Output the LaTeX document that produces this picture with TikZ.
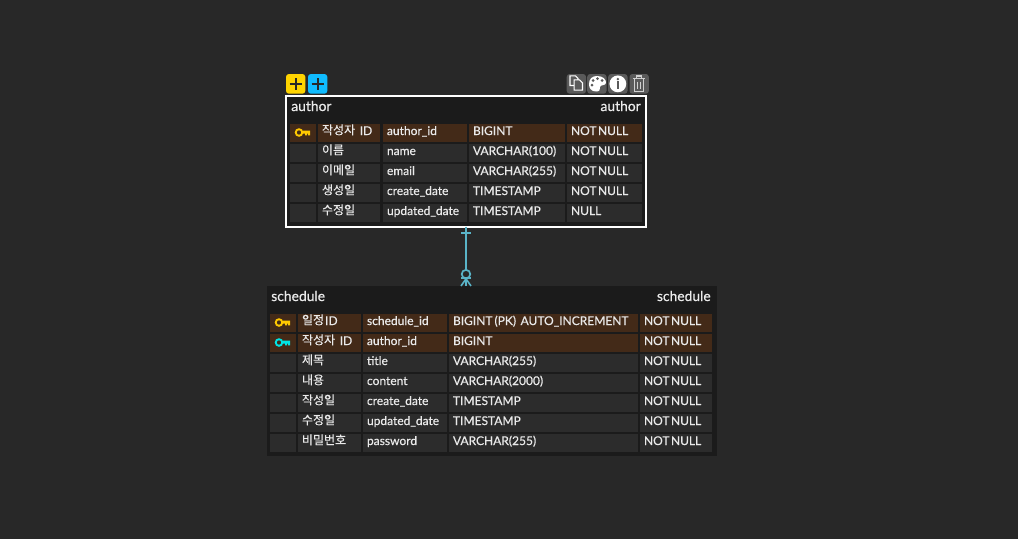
\documentclass[tikz,border=0pt]{standalone}
\usepackage{fontspec}
\setmainfont{Lato}[RawFeature={embolden=0.5}]
\newfontfamily\kr{Noto Sans CJK KR}[RawFeature={embolden=0.3}]
\newcommand{\ko}[1]{\raisebox{.5pt}{\kr\fontsize{9}{9}\selectfont #1}}
\newcommand{\nn}{NOT\kern1.1pt NULL}
\definecolor{bgc}{HTML}{282828}
\definecolor{tbl}{HTML}{1B1B1B}
\definecolor{cellc}{HTML}{2C2C2C}
\definecolor{pkc}{HTML}{432A18}
\definecolor{txt}{HTML}{EAEAEA}
\definecolor{conn}{HTML}{5AB4C8}
\definecolor{yel}{HTML}{FFD400}
\definecolor{blu}{HTML}{10BCFF}
\definecolor{icong}{HTML}{5A5A5A}
\definecolor{keyy}{HTML}{FFC800}
\definecolor{keyc}{HTML}{00E5E5}
\definecolor{trashc}{HTML}{D0D0D0}
\tikzset{
  tcell/.style={rectangle,anchor=north west,fill=cellc,text=txt,inner xsep=3pt,inner ysep=0pt,outer sep=0pt,
    text height=8.25pt,text depth=5.25pt,align=left,font=\fontsize{9}{9}\selectfont},
  pkcell/.style={tcell,fill=pkc},
  tablebox/.style={rectangle,anchor=north west,fill=tbl,inner sep=0pt,outer sep=0pt},
  headtxt/.style={text=txt,inner sep=0pt,font=\fontsize{10.4}{11}\selectfont},
  addbtn/.style={rectangle,rounded corners=2.2pt,anchor=north west,inner sep=0pt,outer sep=0pt,minimum width=14.5pt,minimum height=14.8pt},
  iconbtn/.style={addbtn,fill=icong},
  rel/.style={draw=conn,line width=1.5pt},
  plusmark/.style={draw=bgc,line width=1.6pt},
  iconline/.style={draw=white,line width=.8pt},
}
\newcommand{\cellat}[6]{\pgfmathsetlengthmacro{\cw}{(#3-#2)*.75pt-6pt}%
  \node[#5,text width=\cw] (#1) at (#2,#4) {#6};}
\newcommand{\arow}[7]{%
  \cellat{#1k}{290}{316}{#2}{#3}{}%
  \cellat{#1n}{318}{380}{#2}{#3}{#4}%
  \cellat{#1c}{383}{467}{#2}{#3}{#5}%
  \cellat{#1t}{469}{565}{#2}{#3}{#6}%
  \cellat{#1u}{567}{642}{#2}{#3}{#7}}
\newcommand{\srow}[7]{%
  \cellat{#1k}{269.5}{296}{#2}{#3}{}%
  \cellat{#1n}{298}{361}{#2}{#3}{#4}%
  \cellat{#1c}{363}{447}{#2}{#3}{#5}%
  \cellat{#1t}{449}{638}{#2}{#3}{#6}%
  \cellat{#1u}{640}{712}{#2}{#3}{#7}}
\newcommand{\keyicon}[3]{%
  \draw[#3,line width=1.4pt] (#1,#2) circle (3.3);
  \fill[#3] (#1+3.5,#2-1.8) -- (#1+11,#2-1.8) -- (#1+11,#2+2.8) -- (#1+9,#2+2.8) -- (#1+9,#2+1.2) -- (#1+8,#2+1.2) -- (#1+8,#2+2.8) -- (#1+6,#2+2.8) -- (#1+6,#2+1.2) -- (#1+3.5,#2+1.2) -- cycle;}
\begin{document}
\begin{tikzpicture}[x=.75pt,y=-.75pt]
\useasboundingbox (0,0) rectangle (1018,539);
\fill[bgc] (0,0) rectangle (1018,539);

\node[tablebox,draw=white,line width=1.5pt,minimum width=270pt,minimum height=97.9pt] (author) at (286,96) {};
\node[tablebox,minimum width=337.5pt,minimum height=127.5pt] (schedule) at (266.5,286) {};
\coordinate (fk) at (author.south |- schedule.north);
\draw[rel] (author.south) -- (fk);
\draw[rel] ([xshift=-3.75pt,yshift=-4.9pt]author.south) -- ([xshift=3.75pt,yshift=-4.9pt]author.south);
\draw[rel,fill=bgc,line width=1.3pt] ([yshift=8.9pt]fk) circle (3.2pt);
\draw[rel] ([xshift=-3.75pt,yshift=6pt]fk) -- ([xshift=3.75pt,yshift=6pt]fk);
\draw[rel,line width=1.2pt] ([yshift=5.4pt]fk) -- ([xshift=-3.75pt]fk) ([yshift=5.4pt]fk) -- ([xshift=3.75pt]fk);

\node[addbtn,fill=yel] (addy) at (286,74) {};
\node[addbtn,fill=blu] (addb) at (308,74) {};
\draw[plusmark] ([xshift=-4.5pt]addy.center) -- ([xshift=4.5pt]addy.center) ([yshift=-4.5pt]addy.center) -- ([yshift=4.5pt]addy.center);
\draw[plusmark] ([xshift=-4.5pt]addb.center) -- ([xshift=4.5pt]addb.center) ([yshift=-4.5pt]addb.center) -- ([yshift=4.5pt]addb.center);
\node[iconbtn] (icopy) at (566.7,74) {};
\node[iconbtn] (ipal) at (587.2,74) {};
\node[iconbtn] (iinfo) at (608.2,74) {};
\node[iconbtn] (itrash) at (629.5,74) {};
% copy
\draw[iconline] (574,85.5) -- (570,85.5) -- (570,75.8) -- (575.5,75.8) -- (578,78.3) -- (578,79.8);
\draw[iconline] (574.2,79.8) -- (579.5,79.8) -- (582.5,82.8) -- (582.5,90.2) -- (574.2,90.2) -- cycle;
% palette
\fill[white] (597,76) .. controls (603,76) and (606.3,79.5) .. (606,83) .. controls (605.5,86) and (600.5,84.3) .. (600,87) .. controls (599.7,89.5) and (600.5,91.5) .. (596,91.5) .. controls (591,91.5) and (589,88) .. (589,84) .. controls (589,79) and (592,76) .. (597,76) -- cycle;
\foreach \px/\py in {592/85.2,593/80.5,597.5/78.7,602/80.5} \fill[icong] (\px,\py) circle (1.5);
% info
\fill[white] (iinfo.center) circle (6.3pt);
\fill[icong] ([yshift=3.6pt]iinfo.center) circle (1pt);
\fill[icong] ([xshift=-1pt,yshift=1.8pt]iinfo.center) rectangle ([xshift=1pt,yshift=-4pt]iinfo.center);
% trash
\draw[iconline,draw=trashc] (633,78.5) -- (645,78.5) (636.5,78.5) -- (636.5,76) -- (641.5,76) -- (641.5,78.5);
\draw[iconline,draw=trashc] (634.5,78.5) -- (634.5,91.5) -- (643.5,91.5) -- (643.5,78.5) (637.5,81.5) -- (637.5,89) (640.5,81.5) -- (640.5,89);

\node[headtxt,anchor=base west] (ahl) at (291,111) {author};
\node[headtxt,anchor=base east] (ahr) at (641,111) {author};
\arow{a1}{124}{pkcell}{\ko{작성자}\kern3.5pt ID}{author\_id}{BIGINT}{\nn}
\arow{a2}{144}{tcell}{\ko{이름}}{name}{VARCHAR(100)}{\nn}
\arow{a3}{164}{tcell}{\ko{이메일}}{email}{VARCHAR(255)}{\nn}
\arow{a4}{184}{tcell}{\ko{생성일}}{create\_date}{TIMESTAMP}{\nn}
\arow{a5}{204}{tcell}{\ko{수정일}}{updated\_date}{TIMESTAMP}{NULL}
\keyicon{299}{132.5}{keyy}

\node[headtxt,anchor=base west] (shl) at (271,301) {schedule};
\node[headtxt,anchor=base east] (shr) at (711,301) {schedule};
\srow{s1}{314}{pkcell}{\ko{일정}\kern.8pt ID}{schedule\_id}{BIGINT\kern1.5pt (PK)\kern3.4pt AUTO\_INCREMENT}{\nn}
\srow{s2}{334}{pkcell}{\ko{작성자}\kern3.5pt ID}{author\_id}{BIGINT}{\nn}
\srow{s3}{354}{tcell}{\ko{제목}}{title}{VARCHAR(255)}{\nn}
\srow{s4}{374}{tcell}{\ko{내용}}{content}{VARCHAR(2000)}{\nn}
\srow{s5}{394}{tcell}{\ko{작성일}}{create\_date}{TIMESTAMP}{\nn}
\srow{s6}{414}{tcell}{\ko{수정일}}{updated\_date}{TIMESTAMP}{\nn}
\srow{s7}{434}{tcell}{\ko{비밀번호}}{password}{VARCHAR(255)}{\nn}
\keyicon{279}{322.5}{keyy}
\keyicon{279}{342.5}{keyc}
\end{tikzpicture}
\end{document}
